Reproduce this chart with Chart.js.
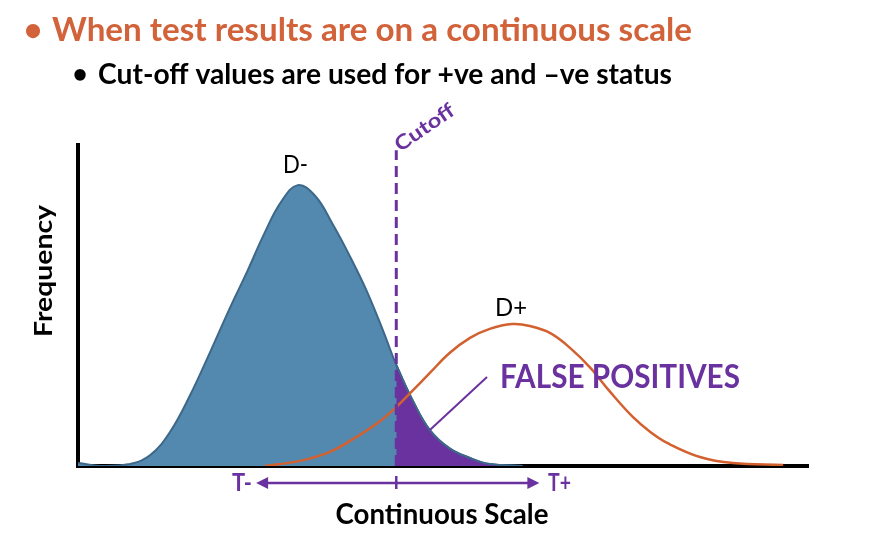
<!DOCTYPE html>
<html>
<head>
<meta charset="utf-8">
<script src="https://cdn.jsdelivr.net/npm/chart.js@4.4.0/dist/chart.umd.min.js"></script>
<style>
    html, body { margin: 0; padding: 0; background: #fff; }
    #wrap { width: 886px; height: 548px; position: relative; }
</style>
</head>
<body>
<div id="wrap"><canvas id="chart"></canvas></div>
<script>
// Distribution of the non-diseased group (D-)
const negX = [0, 3.7, 7.1, 9.9, 12.6, 15.3, 18.1, 20.8, 23.2, 25.5, 27.8, 30.1, 32.5, 34.8, 37.1, 39.5, 41.8, 43.6, 45.9, 48.2, 50.9, 53.7, 56.4, 60.9];
const negY = [0.9, 0, 0.6, 3.4, 10.6, 21.8, 35.5, 49.2, 60.7, 72.3, 82.2, 87.5, 84.1, 75.7, 66.0, 54.8, 42.1, 31.5, 20.2, 11.2, 5.5, 2.5, 0.6, 0];

// Distribution of the diseased group (D+)
const posX = [25.6, 30.4, 34.5, 38.6, 41.4, 43.7, 45.5, 48.2, 50.9, 53.7, 56.4, 59.5, 61.9, 64.7, 67.4, 70.1, 72.9, 76.0, 78.4, 80.7, 85.2, 89.7, 96.6];
const posY = [0, 1.6, 4.4, 9.7, 14.0, 18.6, 22.7, 29.0, 35.2, 39.9, 42.7, 44.2, 43.6, 41.4, 36.8, 30.8, 23.1, 15.3, 10.6, 7.2, 2.8, 0.9, 0.3];

const cutoffX = 43.6;
const cutoffTop = 98.4;
const arrowLeft = 24.4;
const arrowRight = 63.2;
const pointerFrom = 19; // index into the D- arrays

const titleText = 'When test results are on a continuous scale';
const subText = 'Cut-off values are used for +ve and \u2013ve status';

const PURPLE = '#6A329F';
const ORANGE = '#D3602F';
const BLUE_FILL = '#5388AF';
const BLUE_LINE = '#3D6889';

const toPoints = (xs, ys) => xs.map((x, i) => ({ x: x, y: ys[i] }));
const negPoints = toPoints(negX, negY);
const posPoints = toPoints(posX, posY);
const falsePos = negPoints.filter(p => p.x >= cutoffX);

// text helper, squeezes to a target width so the narrow slide font is matched
function txt(ctx, s, x, y, o) {
    ctx.save();
    ctx.font = `${o.weight || 'normal'} ${o.size}px Lato`;
    ctx.fillStyle = o.color || '#000';
    ctx.textBaseline = 'alphabetic';
    ctx.textAlign = o.align || 'left';
    const w = ctx.measureText(s).width;
    ctx.translate(x, y);
    if (o.rotate) ctx.rotate(o.rotate);
    if (o.width) ctx.scale(o.width / w, 1);
    ctx.fillText(s, 0, 0);
    ctx.restore();
}

const annotations = {
    id: 'annotations',
    afterDraw(chart) {
        const ctx = chart.ctx;
        const xs = chart.scales.x, ys = chart.scales.y;

        // heading
        txt(ctx, '\u2022', 33, 41, { size: 32, weight: 'bold', color: '#D2623A', align: 'center' });
        txt(ctx, titleText, 52, 41, { size: 32, weight: 'bold', color: '#D2623A', width: 640 });
        txt(ctx, '\u2022', 80, 83, { size: 26, weight: 'bold', align: 'center' });
        txt(ctx, subText, 98, 84, { size: 28, weight: 'bold', width: 574 });

        // curve labels
        txt(ctx, 'D-', 283, 173, { size: 25, width: 25 });
        txt(ctx, 'D+', 495, 316, { size: 25, width: 32 });

        // cutoff label
        const cx = xs.getPixelForValue(cutoffX);
        txt(ctx, 'Cutoff', cx + 4, ys.getPixelForValue(cutoffTop) + 2, { size: 20, weight: 'bold', color: PURPLE, rotate: -0.6, width: 68 });

        // false positives pointer
        const px = xs.getPixelForValue(negX[pointerFrom]);
        const py = ys.getPixelForValue(negY[pointerFrom]);
        ctx.save();
        ctx.strokeStyle = PURPLE;
        ctx.lineWidth = 2;
        ctx.beginPath();
        ctx.moveTo(px, py);
        ctx.lineTo(487, 377);
        ctx.stroke();
        ctx.restore();
        txt(ctx, 'FALSE POSITIVES', 500, 388, { size: 32, weight: 'bold', color: PURPLE, width: 240 });

        // T- / T+ arrow under the axis
        const ay = 483;
        const ax1 = xs.getPixelForValue(arrowLeft), ax2 = xs.getPixelForValue(arrowRight);
        ctx.save();
        ctx.strokeStyle = PURPLE;
        ctx.fillStyle = PURPLE;
        ctx.lineWidth = 2.5;
        ctx.beginPath();
        ctx.moveTo(ax1 + 8, ay);
        ctx.lineTo(ax2 - 8, ay);
        ctx.moveTo(cx, ay - 7);
        ctx.lineTo(cx, ay + 6);
        ctx.stroke();
        ctx.beginPath();
        ctx.moveTo(ax1, ay);
        ctx.lineTo(ax1 + 12, ay - 6);
        ctx.lineTo(ax1 + 12, ay + 6);
        ctx.closePath();
        ctx.moveTo(ax2, ay);
        ctx.lineTo(ax2 - 12, ay - 6);
        ctx.lineTo(ax2 - 12, ay + 6);
        ctx.closePath();
        ctx.fill();
        ctx.restore();
        txt(ctx, 'T-', 232, 491, { size: 24, weight: 'bold', color: PURPLE, width: 20 });
        txt(ctx, 'T+', 548, 491, { size: 24, weight: 'bold', color: PURPLE, width: 23 });

        // axis titles
        txt(ctx, 'Continuous Scale', 442, 524, { size: 28, weight: 'bold', align: 'center', width: 213 });
        txt(ctx, 'Frequency', 52, 271, { size: 25, weight: 'bold', align: 'center', rotate: -Math.PI / 2, width: 132 });
    }
};

new Chart(document.getElementById('chart'), {
    type: 'line',
    data: {
        datasets: [
            {
                label: 'Cutoff',
                data: [{ x: cutoffX, y: 0 }, { x: cutoffX, y: cutoffTop }],
                borderColor: PURPLE,
                borderWidth: 3,
                borderDash: [11, 6],
                pointRadius: 0,
                tension: 0,
                fill: false,
                order: 0
            },
            {
                label: 'D+',
                data: posPoints,
                borderColor: ORANGE,
                borderWidth: 2.5,
                pointRadius: 0,
                tension: 0.4,
                fill: false,
                order: 1
            },
            {
                label: 'False positives',
                data: falsePos,
                borderColor: BLUE_LINE,
                borderWidth: 2,
                backgroundColor: PURPLE,
                pointRadius: 0,
                tension: 0.4,
                fill: 'origin',
                order: 2
            },
            {
                label: 'D-',
                data: negPoints,
                borderColor: BLUE_LINE,
                borderWidth: 2,
                backgroundColor: BLUE_FILL,
                pointRadius: 0,
                tension: 0.4,
                fill: 'origin',
                order: 3
            }
        ]
    },
    options: {
        responsive: true,
        maintainAspectRatio: false,
        animation: false,
        layout: { padding: { left: 78, right: 78, top: 145, bottom: 82 } },
        plugins: {
            legend: { display: false },
            tooltip: { enabled: false }
        },
        scales: {
            x: {
                type: 'linear',
                min: 0,
                max: 100,
                grid: { display: true, color: 'rgba(0,0,0,0)', drawTicks: false },
                ticks: { display: false },
                border: { display: true, color: '#000', width: 4 }
            },
            y: {
                min: 0,
                max: 100,
                grid: { display: true, color: 'rgba(0,0,0,0)', drawTicks: false },
                ticks: { display: false },
                border: { display: true, color: '#000', width: 4 }
            }
        }
    },
    plugins: [annotations]
});
</script>
</body>
</html>
